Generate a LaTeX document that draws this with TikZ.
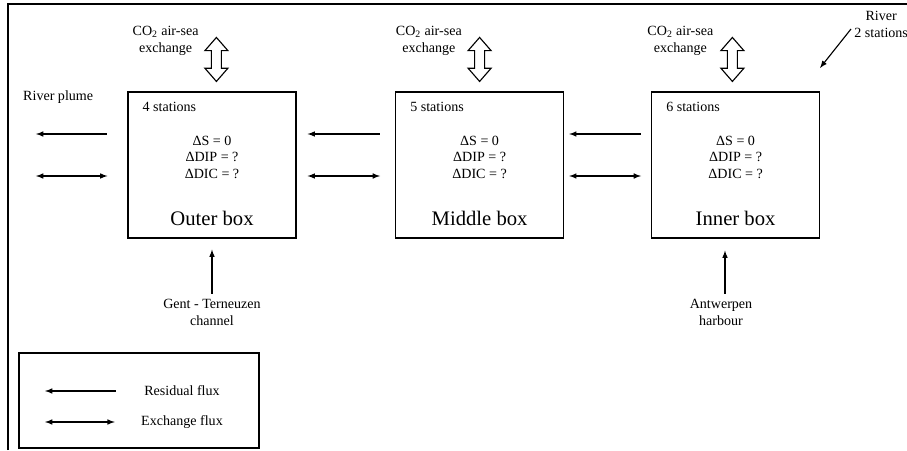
\documentclass[tikz,border=0pt]{standalone}
\usepackage{fontspec}
\setmainfont{Liberation Serif}

% hollow up-down arrow for the air-sea exchange
\newcommand\hollowarrow[1]{%
  \draw[shift={(#1)}] (0,0.55) -- (-0.2875,0.22) -- (-0.125,0.22) -- (-0.125,-0.22)
    -- (-0.2875,-0.22) -- (0,-0.55) -- (0.2875,-0.22) -- (0.125,-0.22)
    -- (0.125,0.22) -- (0.2875,0.22) -- cycle;}

\begin{document}
\begin{tikzpicture}[>=latex, line width=0.8pt,
    box/.style={draw, minimum width=4.2cm, minimum height=3.65cm},
    boxname/.style={font=\fontsize{14.7}{17}\selectfont}]
    \useasboundingbox (0,0) rectangle (22.675,11.25);
    \draw (0.2,0) -- (0.2,11.15) -- (22.675,11.15);
    % boxes
    \node[box] (outer) at (5.3,7.125) {};
    \node[box] (middle) at (11.99,7.125) {};
    \node[box] (inner) at (18.39,7.125) {};
    \node[anchor=west] (outerst) at ([shift={(0.25,-0.375)}]outer.north west) {4 stations};
    \node[anchor=west] (middlest) at ([shift={(0.25,-0.375)}]middle.north west) {5 stations};
    \node[anchor=west] (innerst) at ([shift={(0.25,-0.375)}]inner.north west) {6 stations};
    \node[align=center] (outereq) at ([yshift=0.19cm]outer.center) {ΔS = 0\\ΔDIP = ?\\ΔDIC = ?};
    \node[align=center] (middleeq) at ([yshift=0.19cm]middle.center) {ΔS = 0\\ΔDIP = ?\\ΔDIC = ?};
    \node[align=center] (innereq) at ([yshift=0.19cm]inner.center) {ΔS = 0\\ΔDIP = ?\\ΔDIC = ?};
    \node[boxname] (outername) at ([yshift=0.5cm]outer.south) {Outer box};
    \node[boxname] (middlename) at ([yshift=0.5cm]middle.south) {Middle box};
    \node[boxname] (innername) at ([yshift=0.5cm]inner.south) {Inner box};
    % air-sea exchange
    \coordinate (co2outer) at ([xshift=0.11cm,yshift=0.8cm]outer.north);
    \coordinate (co2middle) at ([yshift=0.8cm]middle.north);
    \coordinate (co2inner) at ([xshift=-0.08cm,yshift=0.8cm]inner.north);
    \hollowarrow{co2outer}
    \hollowarrow{co2middle}
    \hollowarrow{co2inner}
    \node[align=center] (co2outertxt) at ([shift={(-1.27,0.46)}]co2outer) {CO\textsubscript{2} air-sea\\exchange};
    \node[align=center] (co2middletxt) at ([shift={(-1.27,0.46)}]co2middle) {CO\textsubscript{2} air-sea\\exchange};
    \node[align=center] (co2innertxt) at ([shift={(-1.3,0.46)}]co2inner) {CO\textsubscript{2} air-sea\\exchange};
    % fluxes between boxes
    \coordinate (res) at (0,7.9);
    \coordinate (exc) at (0,6.85);
    \node[anchor=west] (plume) at (0.45,8.825) {River plume};
    \coordinate (plumeres) at (0.9,7.9);
    \coordinate (plumeexc) at (0.9,6.85);
    \draw[<-, shorten >=0.5cm] (plumeres) -- (outer.west |- res);
    \draw[<->, shorten >=0.5cm] (plumeexc) -- (outer.west |- exc);
    \draw[<-, shorten <=0.275cm, shorten >=0.375cm] (outer.east |- res) -- (middle.west |- res);
    \draw[<->, shorten <=0.275cm, shorten >=0.375cm] (outer.east |- exc) -- (middle.west |- exc);
    \draw[<-, shorten <=0.125cm, shorten >=0.25cm] (middle.east |- res) -- (inner.west |- res);
    \draw[<->, shorten <=0.125cm, shorten >=0.25cm] (middle.east |- exc) -- (inner.west |- exc);
    % river
    \node[align=center] (river) at (22.03,10.64) {River\\2 stations};
    \coordinate (riverstart) at (21.275,10.525);
    \coordinate (rivertip) at (20.5,9.55);
    \draw[->] (riverstart) -- (rivertip);
    % lateral inputs
    \node[align=center] (gent) at (5.3,3.45) {Gent - Terneuzen\\channel};
    \draw[->, shorten >=0.275cm] (gent) -- (gent |- outer.south);
    \node[align=center] (antw) at (18.025,3.45) {Antwerpen\\harbour};
    \draw[->, shorten >=0.3cm] ([xshift=0.1cm]antw.north) -- ([xshift=0.1cm]antw.north |- inner.south);
    % legend
    \node[draw, minimum width=6cm, minimum height=2.375cm] (legend) at (3.475,1.2375) {};
    \node (legres) at (4.55,1.475) {Residual flux};
    \node (legexc) at (4.55,0.7) {Exchange flux};
    \draw[<-, shorten >=0.58cm] (legres.west -| 1.125,0) -- (legres.west);
    \draw[<->, shorten >=0.53cm] (legexc.west -| 1.125,0) -- (legexc.west);
\end{tikzpicture}
\end{document}
